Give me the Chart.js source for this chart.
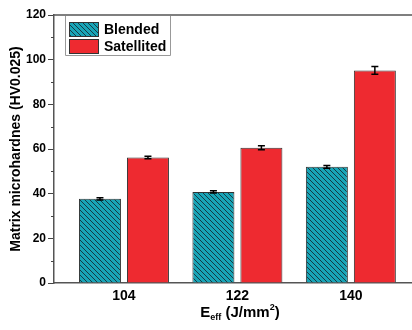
<!DOCTYPE html>
<html><head><meta charset="utf-8">
<script src="https://cdn.jsdelivr.net/npm/chart.js@4"></script>
<style>
html,body{margin:0;padding:0;background:#fff;overflow:hidden}
#wrap{position:relative;width:412px;height:330px}
#xt{position:absolute;left:140px;width:200px;top:303px;text-align:center;font:bold 15px "Liberation Sans",Arial,sans-serif;color:#000;line-height:18px;white-space:nowrap}
#xt sub{font-size:9px;vertical-align:-3px;line-height:0}
#xt sup{font-size:9px;vertical-align:7px;line-height:0}
</style></head><body>
<div id="wrap"><canvas id="c" width="412" height="330"></canvas><div id="xt">E<sub>eff</sub> (J/mm<sup>2</sup>)</div></div>
<script>
const categories=[104,122,140];
const seriesNames=['Blended','Satellited'];
const blended=[37.7,40.8,52.0];
const blendedErr=[0.5,0.5,0.6];
const satellited=[56.2,60.6,95.2];
const satellitedErr=[0.6,0.9,1.7];
const yTicks=[0,20,40,60,80,100,120];
const yMinorTicks=[10,30,50,70,90,110];
const yTitle='Matrix microhardnes (HV0.025)';

const FONT='"Liberation Sans", Arial, sans-serif';
const canvas=document.getElementById('c');
const ctx=canvas.getContext('2d');
function hatch(){
  const s=5,c=document.createElement('canvas');c.width=c.height=s;
  const g=c.getContext('2d');
  g.fillStyle='#18a5b7';g.fillRect(0,0,s,s);
  g.strokeStyle='#163a44';g.lineWidth=1;g.beginPath();
  g.moveTo(0,0);g.lineTo(s,s);g.moveTo(-1,s-1);g.lineTo(1,s+1);g.moveTo(s-1,-1);g.lineTo(s+1,1);
  g.stroke();
  return ctx.createPattern(c,'repeat');
}
const hatchPat=hatch();
const RED='#ee2a30';
const errs=[blendedErr,satellitedErr];

const decor={
  id:'decor',
  afterDraw(chart){
    const c=chart.ctx,a=chart.chartArea,y=chart.scales.y;
    c.save();
    // top frame line
    c.strokeStyle='#555';c.lineWidth=1.5;
    c.beginPath();c.moveTo(a.left,a.top);c.lineTo(a.right,a.top);c.stroke();
    // minor ticks
    c.strokeStyle='#444';c.lineWidth=1;
    yMinorTicks.forEach(v=>{const p=Math.round(y.getPixelForValue(v))+0.5;c.beginPath();c.moveTo(a.left-3,p);c.lineTo(a.left,p);c.stroke();});
    // legend
    const lx=65,ly=16;
    c.strokeStyle='#999';c.lineWidth=1;
    c.beginPath();c.moveTo(lx+0.5,ly);c.lineTo(lx+0.5,55.5);c.lineTo(170.5,55.5);c.lineTo(170.5,ly);c.stroke();
    const sw=[hatchPat,RED];
    seriesNames.forEach((n,i)=>{
      const top=22+i*17;
      c.fillStyle=sw[i];c.fillRect(69,top,30,15);
      c.strokeStyle='#333';c.strokeRect(69.5,top+0.5,29,14);
      c.fillStyle='#000';c.font='bold 14px '+FONT;c.textBaseline='middle';c.textAlign='left';
      c.fillText(n,104,top+8);
    });
    c.restore();
  },
  afterDatasetsDraw(chart){
    const c=chart.ctx,y=chart.scales.y;
    c.save();c.strokeStyle='#000';c.lineWidth=1.5;
    chart.data.datasets.forEach((ds,di)=>{
      const meta=chart.getDatasetMeta(di);
      meta.data.forEach((el,i)=>{
        const v=ds.data[i].y,e=errs[di][i];
        const y1=y.getPixelForValue(v+e),y2=y.getPixelForValue(v-e),x=el.x;
        c.beginPath();
        c.moveTo(x,y1);c.lineTo(x,y2);
        c.moveTo(x-3.5,y1);c.lineTo(x+3.5,y1);
        c.moveTo(x-3.5,y2);c.lineTo(x+3.5,y2);
        c.stroke();
      });
    });
    c.restore();
  }
};

new Chart(ctx,{
  type:'bar',
  data:{datasets:[
    {label:seriesNames[0],data:categories.map((x,i)=>({x:x,y:blended[i]})),backgroundColor:hatchPat,borderColor:'#333',borderWidth:1,categoryPercentage:0.846,barPercentage:0.875},
    {label:seriesNames[1],data:categories.map((x,i)=>({x:x,y:satellited[i]})),backgroundColor:RED,borderColor:'#333',borderWidth:1,categoryPercentage:0.846,barPercentage:0.875}
  ]},
  options:{
    responsive:false,animation:false,
    layout:{padding:{top:15,right:0,left:0,bottom:0}},
    plugins:{legend:{display:false},tooltip:{enabled:false}},
    scales:{
      x:{type:'linear',min:92.9,max:149.7,offset:false,
        afterBuildTicks:s=>{s.ticks=categories.map(v=>({value:v}));},
        afterFit:s=>{s.height=47;},
        grid:{drawOnChartArea:false,drawTicks:false},
        border:{color:'#555',width:1.5},
        ticks:{padding:5,color:'#000',font:{family:FONT,size:14,weight:'bold'},autoSkip:false,maxRotation:0,callback:v=>String(v)}
      },
      y:{min:0,max:120,
        afterBuildTicks:s=>{s.ticks=yTicks.map(v=>({value:v}));},
        afterFit:s=>{s.width=54;},
        grid:{drawOnChartArea:false,drawTicks:true,tickLength:6,tickColor:'#444',tickWidth:1},
        border:{color:'#555',width:1.5},
        ticks:{padding:2,color:'#000',font:{family:FONT,size:12,weight:'bold'}},
        title:{display:true,text:yTitle,color:'#000',font:{family:FONT,size:14,weight:'bold'},padding:{top:8,bottom:0}}
      }
    }
  },
  plugins:[decor]
});
</script>
</body></html>
